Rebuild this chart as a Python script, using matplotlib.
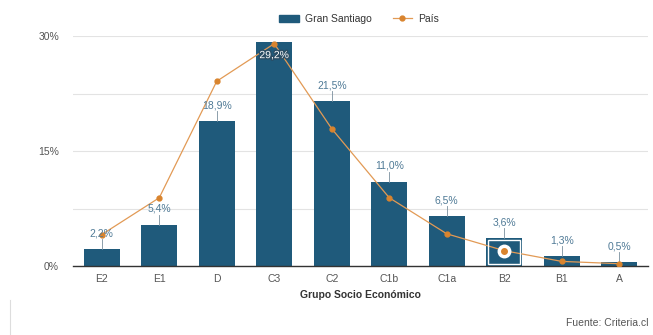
import matplotlib
matplotlib.use("Agg")
import matplotlib.pyplot as plt
import matplotlib.patheffects as pe
from matplotlib.lines import Line2D
from matplotlib.patches import Patch, Rectangle

categories = ["E2", "E1", "D", "C3", "C2", "C1b", "C1a", "B2", "B1", "A"]
gran_santiago = [2.2, 5.4, 18.9, 29.2, 21.5, 11.0, 6.5, 3.6, 1.3, 0.5]
pais = [4.1, 8.9, 24.1, 29.0, 17.9, 8.9, 4.2, 2.0, 0.6, 0.3]
labels = ["2,2%", "5,4%", "18,9%", "29,2%", "21,5%", "11,0%", "6,5%", "3,6%", "1,3%", "0,5%"]

BAR = "#1f5a7b"
LINE = "#e29a55"
MARK = "#d9842e"
TXT = "#555555"
LBL = "#4f7a96"

plt.rcParams['font.family'] = ['Liberation Sans', 'DejaVu Sans']

fig = plt.figure(figsize=(6.53, 3.35), dpi=100)
ax = fig.add_axes([73/653, 1-266/335, (648-73)/653, (266-36)/335])

x = list(range(len(categories)))
bars = ax.bar(x, gran_santiago, width=0.63, color=BAR, zorder=2)
ax.plot(x, pais, color=LINE, lw=0.9, marker="o", ms=3.5, mfc=MARK, mec=MARK, zorder=3)

ax.set_xlim(-0.5, len(categories) - 0.5)
ax.set_ylim(0, 30)
ax.set_yticks([0, 15, 30])
ax.set_yticks([7.5, 22.5], minor=True)
ax.set_yticklabels(["0%", "15%", "30%"])
ax.grid(axis="y", which="both", color="#e3e3e3", lw=0.8, zorder=0)
ax.set_xticks(x)
ax.set_xticklabels(categories)
for s in ["top", "right", "left"]:
    ax.spines[s].set_visible(False)
ax.spines["bottom"].set_color("#333333")
ax.spines["bottom"].set_linewidth(1.0)
ax.tick_params(axis="both", which="both", length=0, labelsize=7.5, colors=TXT, pad=6)
ax.tick_params(axis="y", pad=10)
ax.set_xlabel("Grupo Socio Económico", fontsize=7.5, fontweight="bold", color="#333333", labelpad=4)

px = 30 / 230.0  # data units per pixel
for i, (v, lab) in enumerate(zip(gran_santiago, labels)):
    if v > 27:
        ax.text(i, v - 18 * px, lab, ha="center", va="bottom", fontsize=7.5, color="white",
                path_effects=[pe.withStroke(linewidth=2, foreground="#2b4c63")], zorder=5)
    else:
        ax.plot([i, i], [v, v + 10 * px], color="#7a8f9e", lw=0.6, zorder=2)
        ax.text(i, v + 11 * px, lab, ha="center", va="bottom", fontsize=7.5, color=LBL, zorder=5)

# hover highlight on B2
hb = 7
ax.add_patch(Rectangle((hb - 0.28, 0.2), 0.56, gran_santiago[hb] - 0.45, fill=False,
                       edgecolor="white", lw=1.0, zorder=4))
ax.plot([hb], [pais[hb]], marker="o", ms=9, color="white", zorder=4)
ax.plot([hb], [pais[hb]], marker="o", ms=4, color=MARK, zorder=5)

handles = [Patch(facecolor=BAR, edgecolor=BAR),
           Line2D([0], [0], color=LINE, lw=0.9, marker="o", ms=3.5, mfc=MARK, mec=MARK)]
fig.legend(handles, ["Gran Santiago", "País"], loc="center", bbox_to_anchor=(0.55, 1 - 19/335),
           ncol=2, frameon=False, fontsize=7.5, handlelength=1.9, columnspacing=2.0,
           handletextpad=0.6, labelcolor="#333333")

fig.text(648/653, 1 - 323/335, "Fuente: Criteria.cl", ha="right", va="center", fontsize=7.5, color="#555555")
fig.add_artist(Line2D([10/653, 10/653], [0, 35/335], color="#dddddd", lw=0.8))

fig.savefig("out.png", dpi=100)
